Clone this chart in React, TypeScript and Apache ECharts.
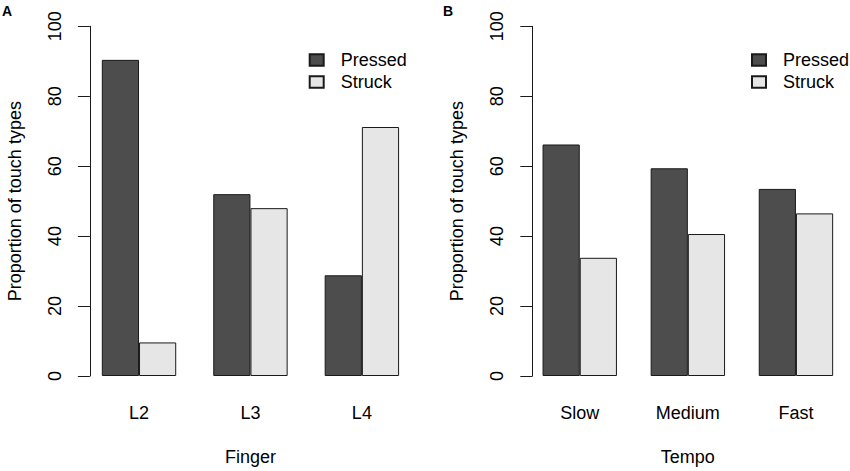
import React, { useEffect, useRef } from "react";
import * as echarts from "echarts";

const fingers = ["L2", "L3", "L4"];
const fingerPressed = [90.4, 52.0, 28.8];
const fingerStruck = [9.6, 48.0, 71.2];

const tempos = ["Slow", "Medium", "Fast"];
const tempoPressed = [66.2, 59.4, 53.5];
const tempoStruck = [33.8, 40.6, 46.5];

const yTicks = [0, 20, 40, 60, 80, 100];
const seriesNames = ["Pressed", "Struck"];

const FONT = "'Liberation Sans', Arial, Helvetica, sans-serif";
const INK = "#1a1a1a";
const DARK = "#4d4d4d";
const LIGHT = "#e6e6e6";

export default function App() {
  const ref = useRef<HTMLDivElement>(null);

  useEffect(() => {
    if (!ref.current) return;
    const chart = echarts.init(ref.current, undefined, { renderer: "svg" });

    const yAxisBase = (gridIndex: number) => ({
      type: "value",
      gridIndex,
      min: yTicks[0],
      max: yTicks[yTicks.length - 1],
      interval: 20,
      offset: -6.6,
      name: "Proportion of touch types",
      nameLocation: "middle",
      nameGap: 66,
      nameTextStyle: { fontFamily: FONT, fontSize: 18, color: "#000" },
      axisLine: { show: true, lineStyle: { color: INK, width: 1 } },
      axisTick: { show: true, length: 12, lineStyle: { color: INK, width: 1 } },
      axisLabel: {
        rotate: 90,
        margin: 26,
        fontFamily: FONT,
        fontSize: 18,
        color: "#000",
      },
      splitLine: { show: false },
    });

    const xAxisBase = (gridIndex: number, data: string[], name: string) => ({
      type: "category",
      gridIndex,
      data,
      name,
      nameLocation: "middle",
      nameGap: 72,
      nameTextStyle: { fontFamily: FONT, fontSize: 18, color: "#000" },
      axisLine: { show: false },
      axisTick: { show: false },
      axisLabel: { margin: 28, fontFamily: FONT, fontSize: 18, color: "#000" },
      splitLine: { show: false },
    });

    const barBase = (name: string, color: string, xAxisIndex: number, data: number[]) => ({
      type: "bar",
      name,
      xAxisIndex,
      yAxisIndex: xAxisIndex,
      data,
      barWidth: 37.2,
      barGap: "0%",
      itemStyle: { color, borderColor: INK, borderWidth: 1 },
      emphasis: { disabled: true },
    });

    const legendBase = (left: number) => ({
      data: seriesNames,
      orient: "vertical",
      left,
      top: 49,
      padding: 0,
      itemWidth: 14,
      itemHeight: 11.4,
      itemGap: 0,
      icon: "rect",
      selectedMode: false,
      textStyle: {
        fontFamily: FONT,
        fontSize: 18,
        color: "#000",
        lineHeight: 22,
        padding: [0, 0, 0, 12],
      },
    });

    chart.setOption({
      animation: false,
      backgroundColor: "#fff",
      textStyle: { fontFamily: FONT },
      legend: [legendBase(308.7), legendBase(751)],
      grid: [
        { left: 83.3, top: 26.3, width: 334.3, height: 354.4 },
        { left: 525.7, top: 26.3, width: 334.6, height: 354.4 },
      ],
      xAxis: [xAxisBase(0, fingers, "Finger"), xAxisBase(1, tempos, "Tempo")],
      yAxis: [yAxisBase(0), yAxisBase(1)],
      series: [
        barBase(seriesNames[0], DARK, 0, fingerPressed),
        barBase(seriesNames[1], LIGHT, 0, fingerStruck),
        barBase(seriesNames[0], DARK, 1, tempoPressed),
        barBase(seriesNames[1], LIGHT, 1, tempoStruck),
      ],
      graphic: [
        {
          type: "text",
          left: 2,
          top: 4,
          style: { text: "A", fontFamily: FONT, fontSize: 14, fontWeight: "bold", fill: "#000" },
        },
        {
          type: "text",
          left: 443,
          top: 4,
          style: { text: "B", fontFamily: FONT, fontSize: 14, fontWeight: "bold", fill: "#000" },
        },
      ],
    });

    return () => chart.dispose();
  }, []);

  return (
    <div
      ref={ref}
      style={{ position: "fixed", left: 0, top: 0, width: 850, height: 471, background: "#fff" }}
    />
  );
}
